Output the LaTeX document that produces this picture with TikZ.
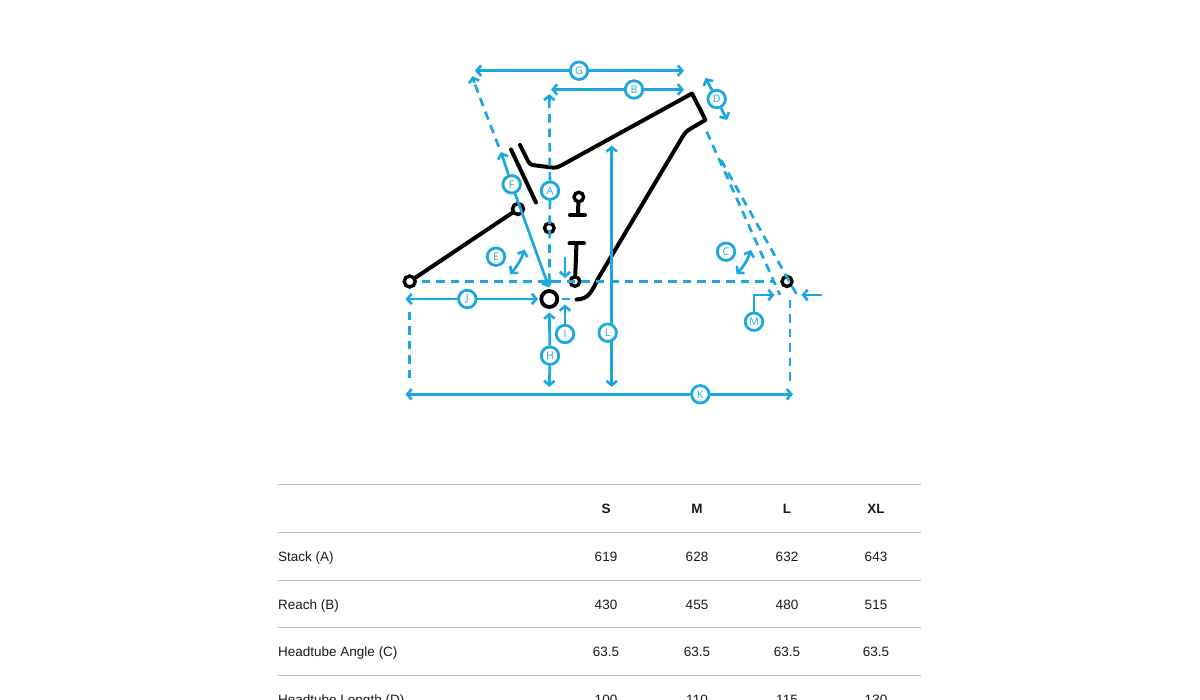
\documentclass[tikz,border=0pt]{standalone}
\usepackage{fontspec}
\setmainfont{Liberation Sans}
\newfontfamily\dimfont{Open Sans}
\usetikzlibrary{arrows.meta}
\definecolor{dimblue}{HTML}{1BA8DE}
\definecolor{rulegray}{HTML}{B4B4B4}
\tikzset{
  barb/.tip={Straight Barb[length=4.5pt,width=10.5pt,line width=2.6pt]},
  dimplain/.style={draw=dimblue,line width=2.7pt},
  dim/.style={dimplain,-barb},
  dimtwo/.style={dimplain,barb-barb},
  dimdash/.style={dimplain,dash pattern=on 8.5pt off 6pt},
  tag/.style={circle,draw=dimblue,line width=2.8pt,fill=white,text=dimblue,minimum size=17.5pt,inner sep=0pt,font=\dimfont\fontsize{10.5}{10.5}\selectfont},
  frame/.style={draw=black,line width=4pt,line join=round,line cap=round},
  pivot/.style={circle,draw=black,fill=white,line width=3.4pt,minimum size=11pt,inner sep=0pt},
  cell/.style={font=\fontsize{13.5}{13.5}\selectfont,text=black!90,anchor=base,inner sep=0pt},
}
\begin{document}
\begin{tikzpicture}[x=1pt,y=-1pt]
  \clip (0,0) rectangle (1200,700);
  \fill[white] (0,0) rectangle (1200,700);

  % frame
  \draw[frame] (520,145) -- (528,161) .. controls (530,165) and (532,165) .. (536,165.5) -- (552,167.5) .. controls (556,168) and (558,167) .. (562,165) -- (692,93.5) -- (705.5,120) -- (690,129) .. controls (686,131.5) and (685,133) .. (683,136) -- (599,277) .. controls (592,290) and (590,299) .. (576.5,299.5);
  \draw[frame] (511,149.5) -- (536,202.5);
  \draw[frame] (409.7,281.5) -- (518,209);
  \draw[frame] (578.5,197) -- (578,215);
  \draw[frame] (570,215) -- (585,215);
  \draw[frame] (569.5,243.5) -- (584,243.5);
  \draw[frame] (576.5,243.5) -- (575,281.5);

  % pivots
  \node[pivot] (axle) at (409.7,281.5) {};
  \node[pivot] (link) at (518,209) {};
  \node[pivot,minimum size=9.5pt] (rocker) at (549.3,228) {};
  \node[pivot,minimum size=16pt,line width=3.8pt] (bb) at (549.3,299) {};
  \node[pivot,minimum size=9.5pt] (shocklow) at (575,281.5) {};
  \node[pivot,minimum size=9.5pt] (shockup) at (578.8,197) {};
  \node[pivot,minimum size=10pt] (front) at (787,281.5) {};

  % free ends
  \coordinate (gleft) at (475,70.7);
  \coordinate (gright) at (684,70.7);
  \coordinate (bleft) at (551,89.5);
  \coordinate (bright) at (684,89.5);
  \coordinate (jleft) at (405.5,299);
  \coordinate (jright) at (538,299);
  \coordinate (kleft) at (405.5,394.3);
  \coordinate (kright) at (793,394.3);
  \coordinate (ftop) at (501,152);
  \coordinate (fbase) at (549,287.5);
  \coordinate (atop) at (549.3,94);
  \coordinate (aneck) at (549.3,101);
  \coordinate (abase) at (549.3,282);
  \coordinate (hup) at (549.3,312.5);
  \coordinate (hdown) at (549.3,387);
  \coordinate (ltop) at (611.7,145.5);
  \coordinate (lmid) at (611.7,332);
  \coordinate (lbase) at (611.7,387);
  \coordinate (iup) at (565,304.5);
  \coordinate (ntop) at (565,257);
  \coordinate (nbase) at (565,278);
  \coordinate (dup) at (705.5,78);
  \coordinate (ddown) at (727,120);
  \coordinate (mcorner) at (754,295);
  \coordinate (mtip) at (774.5,295);
  \coordinate (stail) at (821.7,295);
  \coordinate (stip) at (801.5,295);
  \coordinate (eup) at (524.5,249.5);
  \coordinate (edown) at (510,274);
  \coordinate (cup) at (751,250);
  \coordinate (cdown) at (736.5,274);
  \coordinate (gdashlow) at (498.7,146.7);
  \coordinate (gdashtop) at (474.4,83);
  \coordinate (gtip) at (472.6,76);
  \coordinate (crossl) at (421.7,281.7);
  \coordinate (crossr) at (775,281.7);
  \coordinate (leftup) at (409.3,311.7);
  \coordinate (leftdown) at (409.3,384);
  \coordinate (rightup) at (790,300);
  \coordinate (rightdown) at (790,384);
  \coordinate (heada) at (706.7,131.7);
  \coordinate (heada') at (780,295);
  \coordinate (headb) at (721,160);
  \coordinate (headb') at (797,295);
  \coordinate (stubl) at (561.5,299);
  \coordinate (stubr) at (570,299);

  \draw[dim] (lmid) -- (ltop);
  \draw[dim] (lmid) -- (lbase);

  % labels
  \node[tag] (tagG) at (579,70.7) {G};
  \node[tag] (tagB) at (634,89.5) {B};
  \node[tag] (tagD) at (716.7,99) {D};
  \node[tag] (tagF) at (511.7,184.3) {F};
  \node[tag] (tagA) at (550,190.7) {A};
  \node[tag] (tagE) at (496,256.7) {E};
  \node[tag] (tagC) at (726,251.7) {C};
  \node[tag] (tagJ) at (467.3,299) {J};
  \node[tag] (tagM) at (754,321.7) {M};
  \node[tag] (tagI) at (565,334) {I};
  \node[tag] (tagL) at (607.7,332.7) {L};
  \node[tag] (tagH) at (550,355.7) {H};
  \node[tag] (tagK) at (700.3,394.3) {K};

  % dimensions
  \draw[dim] (tagG) -- (gleft);
  \draw[dim] (tagG) -- (gright);
  \draw[dim] (tagB) -- (bleft);
  \draw[dim] (tagB) -- (bright);
  \draw[dim] (tagJ) -- (jleft);
  \draw[dim] (tagJ) -- (jright);
  \draw[dim] (tagK) -- (kleft);
  \draw[dim] (tagK) -- (kright);
  \draw[dim] (tagF) -- (ftop);
  \draw[dim] (tagF) -- (fbase);
  \draw[dim] (tagH) -- (hup);
  \draw[dim] (tagH) -- (hdown);
  \draw[dim] (tagI) -- (iup);
  \draw[dim] (ntop) -- (nbase);
  \draw[dim] (tagD) -- (dup);
  \draw[dim] (tagD) -- (ddown);
  \draw[dim] (tagM) -- (mcorner) -- (mtip);
  \draw[dim] (stail) -- (stip);

  % angles
  \draw[dimtwo] (edown) to[bend right=12] (eup);
  \draw[dimtwo] (cdown) to[bend right=12] (cup);

  % dashed guides
  \draw[dimdash] (gdashlow) -- (gdashtop);
  \draw[dim] (gdashtop) -- (gtip);
  \draw[dimdash] (tagA) -- (aneck);
  \draw[dim] (aneck) -- (atop);
  \draw[dimdash] (tagA) -- (abase);
  \draw[dimdash] (crossl) -- (crossr);
  \draw[dimdash] (leftup) -- (leftdown);
  \draw[dimdash] (rightup) -- (rightdown);
  \draw[dimdash] (heada) -- (heada');
  \draw[dimdash] (headb) -- (headb');
  \draw[dimplain] (stubl) -- (stubr);

  % table
  \foreach \y in {484.5,532,580,627.5,675}{
    \draw[rulegray,line width=0.9pt] (278,\y) -- (921,\y);
  }
  \foreach \x/\s in {606/S,697/M,787/L,876/XL}{
    \node[cell,font=\fontsize{13.5}{13.5}\bfseries\selectfont] (head\s) at (\x,513.7) {\s};
  }
  \foreach \y/\t/\a/\b/\c/\d in {561.7/Stack (A)/619/628/632/643,609.2/Reach (B)/430/455/480/515,656.7/Headtube Angle (C)/63.5/63.5/63.5/63.5,704.2/Headtube Length (D)/100/110/115/130}{
    \node[cell,anchor=base west] (name\y) at (278,\y) {\t};
    \node[cell] (s\y) at (606,\y) {\a};
    \node[cell] (m\y) at (697,\y) {\b};
    \node[cell] (l\y) at (787,\y) {\c};
    \node[cell] (x\y) at (876,\y) {\d};
  }
\end{tikzpicture}
\end{document}
